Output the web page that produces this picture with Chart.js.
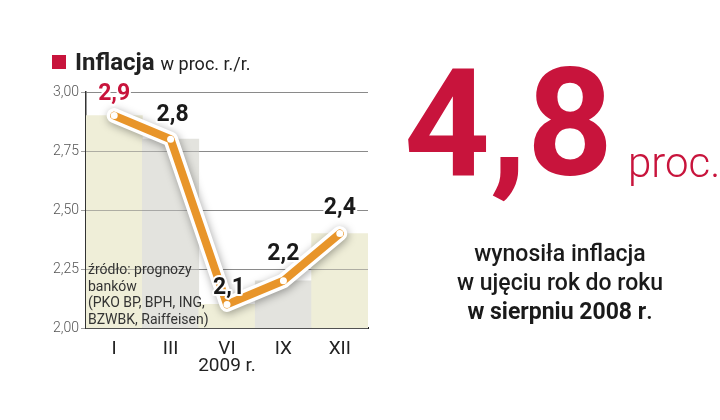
<!DOCTYPE html>
<html><head><meta charset="utf-8">
<script src="https://cdn.jsdelivr.net/npm/chart.js@4.4.0/dist/chart.umd.min.js"></script>
<style>
html,body{margin:0;padding:0;background:#fff;}
#wrap{position:relative;width:720px;height:420px;overflow:hidden;font-family:Roboto,"Liberation Sans",sans-serif;}
canvas{position:absolute;left:0;top:0;}
.t{position:absolute;white-space:nowrap;}
</style></head><body>
<div id="wrap">
<canvas id="c" width="720" height="420"></canvas>
<div class="t" style="left:52px;top:55px;width:14px;height:14px;background:#c8143c"></div>
<div class="t" style="left:75px;top:47px;font-size:24px;line-height:30px;font-weight:700;color:#222">Inflacja <span style="font-size:18px;font-weight:400">w proc. r./r.</span></div>
<div class="t" style="left:88px;top:261px;font-size:14px;line-height:16.5px;color:#333">źródło: prognozy<br>banków<br>(PKO BP, BPH, ING,<br>BZWBK, Raiffeisen)</div>
<div class="t" style="left:404px;top:49px;font-size:150px;line-height:150px;font-weight:700;color:#c8143c">4,8</div>
<div class="t" style="left:628px;top:142px;font-size:42px;line-height:42px;font-weight:300;color:#c8143c">proc.</div>
<div class="t" style="left:410px;top:239px;width:300px;text-align:center;font-size:23px;line-height:29px;font-weight:500;color:#1a1a1a">wynosiła inflacja<br>w ujęciu rok do roku<br><b style="font-weight:700">w sierpniu 2008 r</b>.</div>
</div>
<script>
const categories = ['I', 'III', 'VI', 'IX', 'XII'];
const inflation = [2.9, 2.8, 2.1, 2.2, 2.4];
const valueLabels = ['2,9', '2,8', '2,1', '2,2', '2,4'];
const yTickValues = [2.00, 2.25, 2.50, 2.75, 3.00];
const xAxisTitle = '2009 r.';

const CRIMSON = '#c8143c';
const ORANGE = '#e8952a';
const bandColors = ['#efeed8', '#e3e3de', '#efeed8', '#e3e3de', '#efeed8'];
const labelOffsets = [[0, -21], [2, -24], [2, -16], [0, -27], [0, -25]];

const gridOverBars = {
  id: 'gridOverBars',
  afterDatasetDraw(chart, args) {
    if (args.index !== 0) return;
    const y = chart.scales.y, a = chart.chartArea, ctx = chart.ctx;
    ctx.save();
    ctx.strokeStyle = 'rgba(120,120,120,0.55)';
    ctx.lineWidth = 1;
    y.ticks.forEach(t => {
      const py = Math.round(y.getPixelForValue(t.value)) + 0.5;
      ctx.beginPath(); ctx.moveTo(a.left, py); ctx.lineTo(a.right, py); ctx.stroke();
    });
    ctx.restore();
  }
};
const lineShadow = {
  id: 'lineShadow',
  beforeDatasetDraw(chart, args) {
    if (args.index === 1) {
      const ctx = chart.ctx; ctx.save();
      ctx.shadowColor = 'rgba(0,0,0,0.35)'; ctx.shadowBlur = 8; ctx.shadowOffsetX = 1; ctx.shadowOffsetY = 2;
    }
  },
  afterDatasetDraw(chart, args) {
    if (args.index === 1) chart.ctx.restore();
  }
};
const valueLabelPlugin = {
  id: 'valueLabels',
  afterDatasetsDraw(chart) {
    const meta = chart.getDatasetMeta(2), ctx = chart.ctx;
    ctx.save();
    ctx.font = 'bold 23px Roboto, sans-serif';
    ctx.textAlign = 'center'; ctx.textBaseline = 'middle';
    meta.data.forEach((p, i) => {
      const [dx, dy] = labelOffsets[i];
      ctx.lineWidth = 4; ctx.strokeStyle = '#fff'; ctx.lineJoin = 'round';
      ctx.strokeText(valueLabels[i], p.x + dx, p.y + dy);
      ctx.fillStyle = i === 0 ? CRIMSON : '#1a1a1a';
      ctx.fillText(valueLabels[i], p.x + dx, p.y + dy);
    });
    ctx.restore();
  }
};

new Chart(document.getElementById('c'), {
  data: {
    labels: categories,
    datasets: [
      { type: 'bar', data: inflation, backgroundColor: bandColors, barPercentage: 1, categoryPercentage: 1, order: 3 },
      { type: 'line', data: inflation, borderColor: '#ffffff', borderWidth: 15, pointRadius: 0, borderCapStyle: 'round', borderJoinStyle: 'round', tension: 0, order: 2 },
      { type: 'line', data: inflation, borderColor: ORANGE, borderWidth: 8, pointRadius: 3.5, pointBackgroundColor: '#fff', pointBorderWidth: 0, borderCapStyle: 'round', borderJoinStyle: 'round', tension: 0, order: 1 }
    ]
  },
  options: {
    responsive: false, animation: false,
    layout: { padding: { top: 92, right: 352, left: 0, bottom: 42 } },
    plugins: { legend: { display: false }, tooltip: { enabled: false } },
    scales: {
      x: {
        afterFit(s) { s.height = 50; },
        grid: { display: false },
        border: { display: true, color: '#222', width: 2 },
        ticks: { color: '#222', font: { family: 'Roboto', size: 19 }, padding: 2 },
        title: { display: true, text: xAxisTitle, color: '#222', font: { family: 'Roboto', size: 19 }, padding: { top: 0, bottom: 0 } }
      },
      y: {
        min: 2, max: 3,
        afterFit(s) { s.width = 86; },
        afterBuildTicks(s) { s.ticks = yTickValues.map(v => ({ value: v })); },
        grid: { color: '#a0a0a0', lineWidth: 1, tickLength: 5 },
        border: { display: true, color: '#333', width: 1.5 },
        ticks: { color: '#555', font: { family: 'Roboto', size: 14, weight: '300' }, padding: 2,
          callback: v => v.toFixed(2).replace('.', ',') }
      }
    }
  },
  plugins: [gridOverBars, lineShadow, valueLabelPlugin]
});
</script>
</body></html>
